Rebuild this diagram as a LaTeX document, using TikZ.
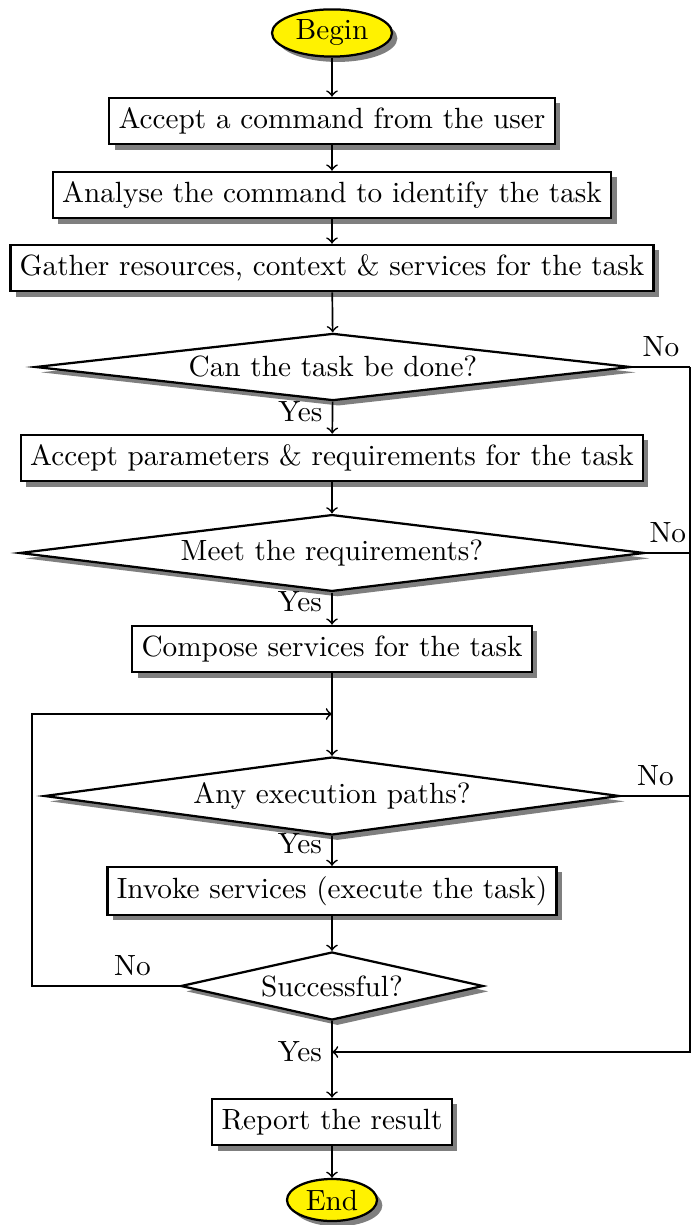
\documentclass[tikz,border=0pt]{standalone}
\usetikzlibrary{shapes.geometric,shadows,calc}
\begin{document}
\begin{tikzpicture}[x=0.0125cm,y=-0.0125cm,
  font=\fontsize{10.4}{12.5}\selectfont,
  base/.style={draw=black, thick, fill=white,
    drop shadow={shadow xshift=1.9pt, shadow yshift=-1.9pt, fill=black, opacity=.5}},
  procbox/.style={base, rectangle, minimum height=0.58cm, inner xsep=3.3pt},
  terminal/.style={base, ellipse, fill=yellow, inner sep=0pt},
  decision/.style={base, diamond, inner sep=0pt},
  flow/.style={->, semithick},
  link/.style={semithick}]
\useasboundingbox (0,0) rectangle (693,1225);

% nodes of the flow chart
\node[terminal, minimum width=1.5cm, minimum height=0.59cm] (begin) at (332,33) {Begin};
\node[procbox] (b1) at (332,121) {Accept a command from the user};
\node[procbox] (b2) at (332,195) {Analyse the command to identify the task};
\node[procbox] (b3) at (332,268) {Gather resources, context \& services for the task};
\node[decision, aspect=10, minimum width=7.44cm, minimum height=0.84cm] (d1) at (333,367) {Can the task be done?};
\node[procbox] (b4) at (332,458) {Accept parameters \& requirements for the task};
\node[decision, aspect=10, minimum width=7.81cm, minimum height=0.96cm] (d2) at (332,553) {Meet the requirements?};
\node[procbox] (b5) at (332,649) {Compose services for the task};
\node[decision, aspect=10, minimum width=7.19cm, minimum height=0.975cm] (d3) at (332,796) {Any execution paths?};
\node[procbox] (b6) at (332,891) {Invoke services (execute the task)};
\node[decision, aspect=4, minimum width=3.78cm, minimum height=0.85cm] (d4) at (332,986) {Successful?};
\node[procbox] (b7) at (332,1122) {Report the result};
\node[terminal, minimum width=1.125cm, minimum height=0.525cm] (end) at (332,1200) {End};

% helper points for the side buses
\coordinate (loop) at (332,714);
\coordinate (join) at (332,1052);
\coordinate (rside) at (690,0);
\coordinate (lside) at (32,0);

% main flow
\draw[flow] (begin) -- (b1);
\draw[flow] (b1) -- (b2);
\draw[flow] (b2) -- (b3);
\draw[flow] (b3) -- (d1);
\draw[flow] (d1) -- node[left, pos=0.3] {Yes} (b4);
\draw[flow] (b4) -- (d2);
\draw[flow] (d2) -- node[left, pos=0.27] {Yes} (b5);
\draw[flow] (b5) -- (d3);
\draw[flow] (d3) -- node[left, pos=0.25] {Yes} (b6);
\draw[flow] (b6) -- (d4);
\draw[flow] (d4) -- node[left, pos=0.4] {Yes} (b7);
\draw[flow] (b7) -- (end);

% retry loop
\draw[flow] (d4.west) -- node[above, pos=0.32] {No} (d4.west -| lside) |- (loop);

% failure branches
\draw[link] (d1.east) -- node[above] {No} (d1.east -| rside);
\draw[link] (d2.east) -- node[above] {No} (d2.east -| rside);
\draw[link] (d3.east) -- node[above] {No} (d3.east -| rside);
\draw[flow] (d1.east -| rside) |- (join);
\end{tikzpicture}
\end{document}
